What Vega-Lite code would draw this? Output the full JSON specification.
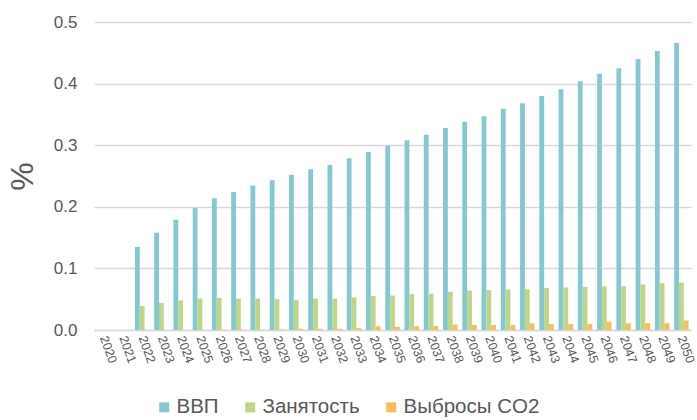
{
  "$schema": "https://vega.github.io/schema/vega-lite/v6.json",
  "width": 597,
  "height": 308,
  "autosize": {"type": "none"},
  "padding": {"left": 94, "top": 22, "right": 6, "bottom": 90},
  "background": "white",
  "config": {
    "font": "Liberation Sans",
    "view": {"stroke": null}
  },
  "datasets": {
    "wide": [
      {"year": "2020", "gdp": 0, "emp": 0, "co2": 0},
      {"year": "2021", "gdp": 0, "emp": 0, "co2": 0},
      {"year": "2022", "gdp": 0.135, "emp": 0.039, "co2": 0},
      {"year": "2023", "gdp": 0.158, "emp": 0.044, "co2": 0},
      {"year": "2024", "gdp": 0.179, "emp": 0.048, "co2": 0},
      {"year": "2025", "gdp": 0.198, "emp": 0.051, "co2": 0},
      {"year": "2026", "gdp": 0.214, "emp": 0.052, "co2": 0.0005},
      {"year": "2027", "gdp": 0.224, "emp": 0.051, "co2": 0.0005},
      {"year": "2028", "gdp": 0.234, "emp": 0.051, "co2": 0.0005},
      {"year": "2029", "gdp": 0.243, "emp": 0.05, "co2": 0.001},
      {"year": "2030", "gdp": 0.252, "emp": 0.049, "co2": 0.002},
      {"year": "2031", "gdp": 0.261, "emp": 0.051, "co2": 0.002},
      {"year": "2032", "gdp": 0.268, "emp": 0.051, "co2": 0.002},
      {"year": "2033", "gdp": 0.279, "emp": 0.053, "co2": 0.003},
      {"year": "2034", "gdp": 0.289, "emp": 0.055, "co2": 0.006},
      {"year": "2035", "gdp": 0.299, "emp": 0.056, "co2": 0.005},
      {"year": "2036", "gdp": 0.308, "emp": 0.058, "co2": 0.006},
      {"year": "2037", "gdp": 0.317, "emp": 0.059, "co2": 0.0065},
      {"year": "2038", "gdp": 0.328, "emp": 0.062, "co2": 0.009},
      {"year": "2039", "gdp": 0.338, "emp": 0.064, "co2": 0.008},
      {"year": "2040", "gdp": 0.347, "emp": 0.065, "co2": 0.008},
      {"year": "2041", "gdp": 0.359, "emp": 0.066, "co2": 0.008},
      {"year": "2042", "gdp": 0.368, "emp": 0.066, "co2": 0.011},
      {"year": "2043", "gdp": 0.38, "emp": 0.068, "co2": 0.0095},
      {"year": "2044", "gdp": 0.391, "emp": 0.069, "co2": 0.0095},
      {"year": "2045", "gdp": 0.404, "emp": 0.07, "co2": 0.01},
      {"year": "2046", "gdp": 0.416, "emp": 0.071, "co2": 0.0135},
      {"year": "2047", "gdp": 0.425, "emp": 0.071, "co2": 0.011},
      {"year": "2048", "gdp": 0.44, "emp": 0.074, "co2": 0.011},
      {"year": "2049", "gdp": 0.453, "emp": 0.076, "co2": 0.011},
      {"year": "2050", "gdp": 0.466, "emp": 0.077, "co2": 0.0155}
    ]
  },
  "data": {"name": "wide"},
  "transform": [
    {"fold": ["gdp", "emp", "co2"], "as": ["key", "value"]},
    {"lookup": "key", "from": {"data": {"values": [
      {"key": "gdp", "series": "ВВП", "order": 0},
      {"key": "emp", "series": "Занятость", "order": 1},
      {"key": "co2", "series": "Выбросы CO2", "order": 2}
    ]}, "key": "key", "fields": ["series", "order"]}}
  ],
  "mark": {"type": "bar"},
  "encoding": {
    "x": {
      "field": "year",
      "type": "nominal",
      "scale": {"paddingInner": 0.25, "paddingOuter": 0.125},
      "axis": {
        "title": null,
        "labelAngle": 70,
        "labelFontSize": 12.5,
        "labelColor": "#595959",
        "ticks": false,
        "domain": true,
        "domainColor": "#d9d9d9",
        "domainWidth": 1.5,
        "labelPadding": 6
      }
    },
    "xOffset": {
      "field": "series",
      "type": "nominal",
      "sort": ["ВВП", "Занятость", "Выбросы CO2"]
    },
    "y": {
      "field": "value",
      "type": "quantitative",
      "scale": {"domain": [0, 0.5], "nice": false},
      "axis": {
        "title": "%",
        "titleFontSize": 32,
        "titleFontWeight": "normal",
        "titleColor": "#595959",
        "titlePadding": 14,
        "values": [0, 0.1, 0.2, 0.3, 0.4, 0.5],
        "format": ".1f",
        "labelFontSize": 17,
        "labelColor": "#595959",
        "labelPadding": 17,
        "ticks": false,
        "domain": false,
        "grid": true,
        "gridColor": "#d9d9d9",
        "gridWidth": 1.5
      }
    },
    "color": {
      "field": "series",
      "type": "nominal",
      "sort": ["ВВП", "Занятость", "Выбросы CO2"],
      "scale": {
        "domain": ["ВВП", "Занятость", "Выбросы CO2"],
        "range": ["#86c8d0", "#bed68a", "#fbbd5c"]
      },
      "legend": {
        "title": null,
        "orient": "none",
        "direction": "horizontal",
        "legendX": 60,
        "legendY": 375,
        "symbolType": "square",
        "symbolSize": 100,
        "symbolStrokeWidth": 0,
        "labelFontSize": 20.5,
        "labelColor": "#595959",
        "labelOffset": 2,
        "columnPadding": 21
      }
    }
  }
}
